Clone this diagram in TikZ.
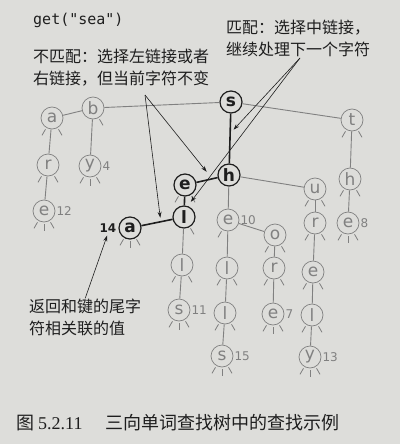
\documentclass[tikz,border=0pt]{standalone}
\usepackage{fontspec}
\usepackage{xcolor}
\usepackage{tikz}
\usetikzlibrary{positioning, calc, arrows.meta}
\setmainfont{DejaVu Sans}
\setmonofont{DejaVu Sans Mono}
\newfontfamily\cjk{Noto Sans CJK SC}
\newfontfamily\capfont{Liberation Serif}
\definecolor{paper}{RGB}{221,221,218}
\definecolor{ink}{RGB}{30,30,30}
\definecolor{faded}{RGB}{128,128,128}

\begin{document}
\begin{tikzpicture}[x=1pt, y=1pt,
    trienode/.style={circle, draw=faded, line width=0.7pt, text=faded, minimum size=22pt, inner sep=0pt, font=\fontsize{17}{17}\selectfont},
    pathnode/.style={trienode, draw=ink, text=ink, line width=1.2pt, font=\fontsize{17}{17}\selectfont\bfseries},
    link/.style={draw=faded, line width=0.9pt},
    pathlink/.style={draw=ink, line width=1.6pt},
    nulllink/.style={draw=faded, line width=0.8pt},
    numlbl/.style={text=faded, inner sep=1pt, font=\fontsize{12}{12}\selectfont},
    note/.style={text=ink, align=left, anchor=west, inner sep=0pt, font=\cjk\fontsize{16}{22}\selectfont},
    arr/.style={draw=ink, line width=0.6pt, -{Stealth[length=6pt, width=4pt]}}
]

% Page
\fill[paper] (0,0) rectangle (400,-444);
\useasboundingbox (0,0) rectangle (400,-444);

% Query
\node[anchor=west, inner sep=0pt, text=ink, font=\ttfamily\fontsize{15}{15}\selectfont] (query) at (33,-20) {get("sea")};

% Trie nodes on the search path
\node[pathnode] (s) at (231,-102) {s};
\node[pathnode] (h1) at (229,-175) {h};
\node[pathnode] (e1) at (185,-185) {e};
\node[pathnode] (l1) at (184,-217) {l};
\node[pathnode] (a14) at (130,-228) {a};

% Other trie nodes
\node[trienode] (b) at (93,-108) {b};
\node[trienode] (a1) at (52,-118) {a};
\node[trienode] (r1) at (48,-165) {r};
\node[trienode] (e12) at (44,-211) {e};
\node[trienode] (y4) at (90,-166) {y};
\node[trienode] (t) at (352,-120) {t};
\node[trienode] (h2) at (350,-179) {h};
\node[trienode] (e8) at (348,-223) {e};
\node[trienode] (l2) at (182,-265) {l};
\node[trienode] (s11) at (179,-310) {s};
\node[trienode] (e10) at (228,-220) {e};
\node[trienode] (l3) at (227,-268) {l};
\node[trienode] (l4) at (225,-313) {l};
\node[trienode] (s15) at (222,-356) {s};
\node[trienode] (o) at (275,-235) {o};
\node[trienode] (r2) at (274,-268) {r};
\node[trienode] (e7) at (273,-314) {e};
\node[trienode] (u) at (315,-189) {u};
\node[trienode] (r3) at (315,-223) {r};
\node[trienode] (e3) at (313,-272) {e};
\node[trienode] (l5) at (312,-315) {l};
\node[trienode] (y13) at (310,-357) {y};

% Values
\node[numlbl, right=0pt of e12] (v12) {12};
\node[numlbl, right=0pt of y4] (v4) {4};
\node[numlbl, right=0pt of e8] (v8) {8};
\node[numlbl, right=0pt of e10] (v10) {10};
\node[numlbl, right=0pt of s11] (v11) {11};
\node[numlbl, right=0pt of s15] (v15) {15};
\node[numlbl, right=0pt of e7] (v7) {7};
\node[numlbl, right=0pt of y13] (v13) {13};
\node[numlbl, text=ink, font=\fontsize{12}{12}\selectfont\bfseries, left=1pt of a14] (v14) {14};

% Links
\draw[pathlink] (s) -- (h1);
\draw[pathlink] (e1) -- (h1);
\draw[pathlink] (e1) -- (l1);
\draw[pathlink] (a14) -- (l1);
\foreach \p/\c in {b/s, s/t, a1/b, b/y4, a1/r1, r1/e12, t/h2, h2/e8, h1/e10, h1/u,
    l1/l2, l2/s11, e10/l3, l3/l4, l4/s15, e10/o, o/r2, r2/e7, u/r3, r3/e3, e3/l5, l5/y13}
    \draw[link] (\p) -- (\c);

% Null links
\foreach \n/\sides in {b/{-60}, a1/{-120,-60}, r1/{-120,-60}, e12/{-120,-90,-60},
    y4/{-120,-90,-60}, t/{-120,-60}, h2/{-120,-60}, e8/{-120,-90,-60},
    e1/{-120,-60}, l1/{-60}, a14/{-120,-90,-60}, l2/{-120,-60}, s11/{-120,-90,-60},
    e10/{-120}, l3/{-120,-60}, l4/{-120,-60}, s15/{-120,-90,-60}, o/{-120,-60},
    r2/{-120,-60}, e7/{-120,-90,-60}, u/{-120,-60}, r3/{-120,-60}, e3/{-120,-60},
    l5/{-120,-60}, y13/{-120,-90,-60}}
    \foreach \ang in \sides
        \draw[nulllink] ($(\n)+(\ang:13)$) -- ($(\n)+(\ang:20)$);

% Annotations
\node[note] (miss) at (33,-68) {不匹配：选择左链接或者\\右链接，但当前字符不变};
\node[note] (match) at (226,-38.5) {匹配：选择中链接，\\继续处理下一个字符};
\node[note] (ret) at (29,-317) {返回和键的尾字\\符相关联的值};

\coordinate (misspt) at (145,-95);
\coordinate (matchpt) at (300,-58);
\draw[arr, shorten >=4pt] (misspt) -- ($(a14)!0.57!(l1)$);
\draw[arr, shorten >=9pt] (misspt) -- ($(e1)!0.62!(h1)$);
\draw[arr, shorten >=5pt] (matchpt) -- ($(s)!0.43!(h1)$);
\draw[arr, shorten >=11pt] (matchpt) -- ($(e1)!0.8!(l1)$);
\draw[arr, shorten >=2pt] (ret.north) -- (v14.south);

% Caption
\node[anchor=west, inner sep=0pt, text=ink] (caption) at (16,-423) {{\cjk\fontsize{18}{18}\selectfont 图}\hspace{4pt}{\capfont\fontsize{18}{18}\selectfont 5.2.11}\hspace{23pt}{\cjk\fontsize{18}{18}\selectfont 三向单词查找树中的查找示例}};

\end{tikzpicture}
\end{document}
